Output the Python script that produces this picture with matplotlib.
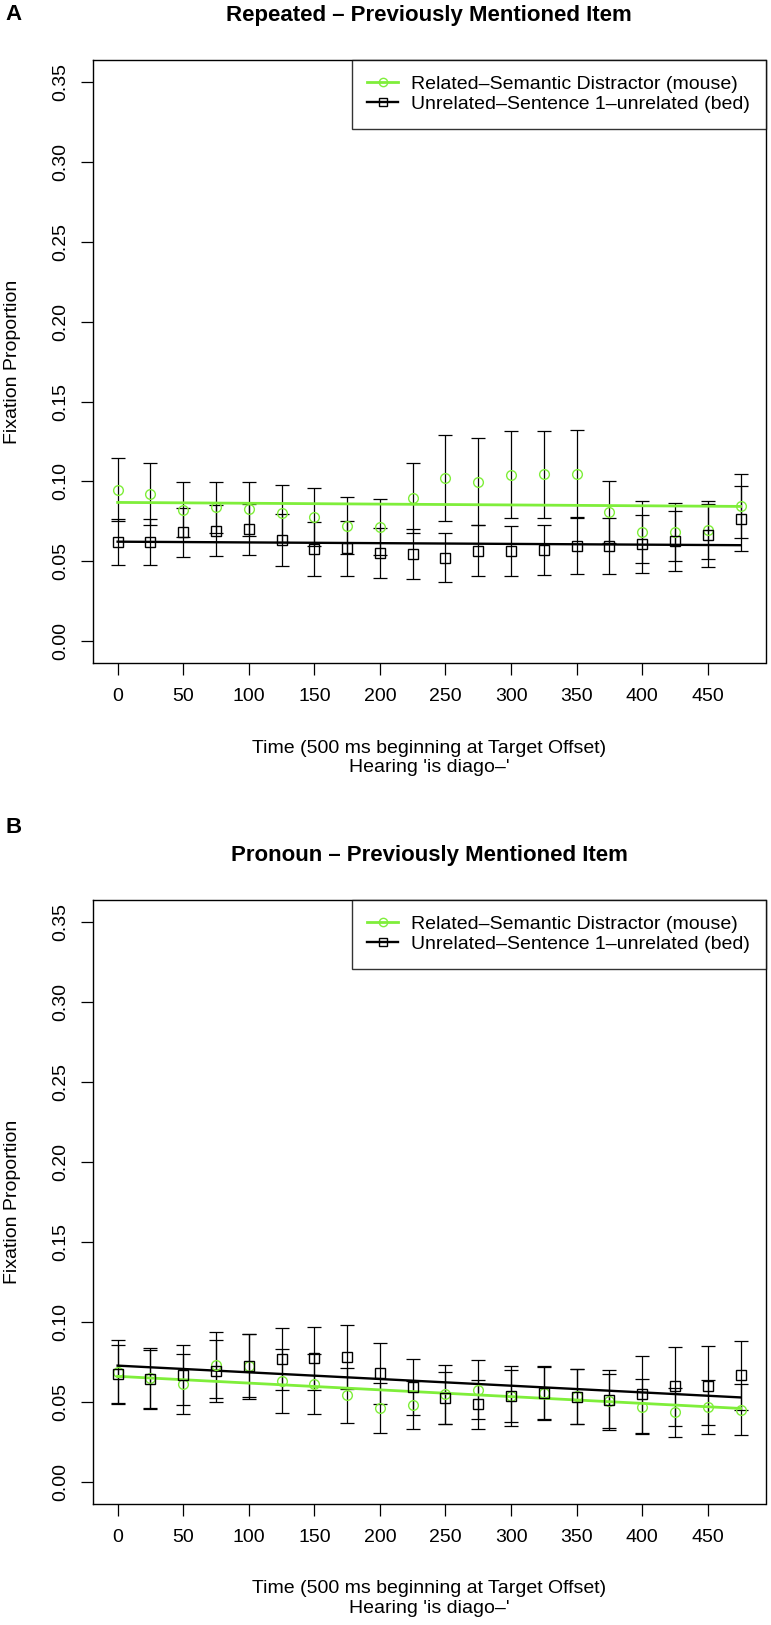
import numpy as np
import matplotlib
matplotlib.use("Agg")
import matplotlib.pyplot as plt
from matplotlib.lines import Line2D

# =========================
# Data
# =========================
TIME_MS = [0, 25, 50, 75, 100, 125, 150, 175, 200, 225,
           250, 275, 300, 325, 350, 375, 400, 425, 450, 475]

# Panel A: Repeated
A_RELATED    = [0.0948, 0.0921, 0.0822, 0.0837, 0.0826, 0.0800, 0.0777, 0.0721, 0.0713, 0.0895,
                0.1021, 0.0998, 0.1041, 0.1045, 0.1048, 0.0808, 0.0680, 0.0684, 0.0696, 0.0845]
A_RELATED_SE = [0.0196, 0.0192, 0.0171, 0.0161, 0.0169, 0.0178, 0.0182, 0.0178, 0.0174, 0.0217,
                0.0272, 0.0273, 0.0272, 0.0272, 0.0273, 0.0196, 0.0194, 0.0182, 0.0182, 0.0202]
A_UNRELATED    = [0.0620, 0.0620, 0.0680, 0.0690, 0.0700, 0.0632, 0.0574, 0.0581, 0.0552, 0.0545,
                  0.0521, 0.0566, 0.0566, 0.0568, 0.0595, 0.0595, 0.0610, 0.0626, 0.0663, 0.0767]
A_UNRELATED_SE = [0.0147, 0.0147, 0.0155, 0.0159, 0.0161, 0.0161, 0.0169, 0.0171, 0.0157, 0.0155,
                  0.0153, 0.0159, 0.0157, 0.0157, 0.0174, 0.0176, 0.0182, 0.0190, 0.0198, 0.0205]
A_FIT_RELATED   = [0.0868, 0.0843]   # fitted line at first / last time point
A_FIT_UNRELATED = [0.0622, 0.0600]

# Panel B: Pronoun
B_RELATED    = [0.0685, 0.0648, 0.0611, 0.0732, 0.0722, 0.0632, 0.0611, 0.0540, 0.0460, 0.0481,
                0.0548, 0.0575, 0.0536, 0.0556, 0.0533, 0.0502, 0.0469, 0.0433, 0.0467, 0.0450]
B_RELATED_SE = [0.0201, 0.0190, 0.0185, 0.0206, 0.0205, 0.0201, 0.0190, 0.0173, 0.0158, 0.0150,
                0.0185, 0.0186, 0.0185, 0.0167, 0.0172, 0.0169, 0.0172, 0.0155, 0.0170, 0.0161]
B_UNRELATED    = [0.0672, 0.0640, 0.0665, 0.0692, 0.0724, 0.0766, 0.0772, 0.0780, 0.0678, 0.0594,
                  0.0523, 0.0485, 0.0536, 0.0552, 0.0531, 0.0513, 0.0546, 0.0596, 0.0600, 0.0665]
B_UNRELATED_SE = [0.0182, 0.0185, 0.0187, 0.0194, 0.0197, 0.0195, 0.0198, 0.0203, 0.0192, 0.0174,
                  0.0164, 0.0153, 0.0164, 0.0167, 0.0172, 0.0188, 0.0243, 0.0245, 0.0246, 0.0215]
B_FIT_RELATED   = [0.0659, 0.0458]
B_FIT_UNRELATED = [0.0726, 0.0527]

X_TICKS = [0, 50, 100, 150, 200, 250, 300, 350, 400, 450]
Y_TICKS = [0.00, 0.05, 0.10, 0.15, 0.20, 0.25, 0.30, 0.35]

LABEL_RELATED   = "Related\u2013Semantic Distractor (mouse)"
LABEL_UNRELATED = "Unrelated\u2013Sentence 1\u2013unrelated (bed)"
XLABEL = "Time (500 ms beginning at Target Offset)\nHearing 'is diago\u2013'"
YLABEL = "Fixation Proportion"

# =========================
# Layout / style (pixels of a 771 x 1625 canvas)
# =========================
W, H = 771, 1625
BOX_LEFT, BOX_RIGHT = 92.7, 765.5
BOX_A = (60.0, 663.3)     # top, bottom
BOX_B = (900.0, 1504.0)
GREEN = "#7FEE3A"
FS = 14

plt.rcParams["font.family"] = ["Liberation Sans", "DejaVu Sans"]


def fy(px):
    return 1 - px / H


def fx(px):
    return px / W


def draw_panel(fig, box, title, letter, letter_y, rel, rel_se, unrel, unrel_se, fit_rel, fit_unrel):
    top, bottom = box
    ax = fig.add_axes([fx(BOX_LEFT), fy(bottom), fx(BOX_RIGHT) - fx(BOX_LEFT),
                       (bottom - top) / H])
    t = np.asarray(TIME_MS, dtype=float)

    # error bars (both in black, like the R original)
    for vals, se in ((rel, rel_se), (unrel, unrel_se)):
        ax.errorbar(t, vals, yerr=se, fmt="none", ecolor="black",
                    elinewidth=0.9, capsize=5, capthick=0.9, zorder=2)

    # fitted lines
    ax.plot([t[0], t[-1]], fit_rel, color=GREEN, lw=2.0, zorder=3)
    ax.plot([t[0], t[-1]], fit_unrel, color="black", lw=1.7, zorder=3)

    # points
    ax.plot(t, rel, linestyle="none", marker="o", ms=7, mfc="none",
            mec=GREEN, mew=1.0, zorder=4)
    ax.plot(t, unrel, linestyle="none", marker="s", ms=6.5, mfc="none",
            mec="black", mew=1.0, zorder=4)

    ax.set_xlim(-19, 494)
    ax.set_ylim(-0.014, 0.364)
    ax.set_xticks(X_TICKS)
    ax.set_yticks(Y_TICKS)
    ax.set_yticklabels([f"{v:.2f}" for v in Y_TICKS], rotation=90, va="center")
    ax.tick_params(direction="out", length=8.6, width=0.9, labelsize=FS)
    ax.tick_params(axis="x", pad=9.5)
    ax.tick_params(axis="y", pad=8.4)
    for sp in ax.spines.values():
        sp.set_linewidth(1.0)

    handles = [
        Line2D([], [], color=GREEN, lw=2.0, marker="o", ms=6, mfc="none", mec=GREEN),
        Line2D([], [], color="black", lw=1.7, marker="s", ms=5.5, mfc="none", mec="black"),
    ]
    leg = ax.legend(handles, [LABEL_RELATED, LABEL_UNRELATED], loc="upper right",
                    bbox_to_anchor=(1.0, 1.0), fontsize=FS, frameon=True, fancybox=False,
                    borderaxespad=0, handlelength=1.6, handletextpad=0.65,
                    borderpad=0.8, labelspacing=0.12)
    leg.get_frame().set_edgecolor("black")
    leg.get_frame().set_linewidth(1.0)

    # title, axis labels, panel letter
    cx = fx((BOX_LEFT + BOX_RIGHT) / 2)
    fig.text(cx, fy(top - 45), title, fontsize=16, fontweight="bold",
             ha="center", va="center")
    fig.text(cx, fy(bottom + 94.5), XLABEL, fontsize=FS, ha="center", va="center",
             linespacing=1.17)
    fig.text(fx(13), fy((top + bottom) / 2), YLABEL, fontsize=FS, rotation=90,
             ha="center", va="center")
    fig.text(fx(13.5), fy(letter_y), letter, fontsize=16, fontweight="bold",
             ha="center", va="center")


def main():
    fig = plt.figure(figsize=(W / 100, H / 100), dpi=100)

    draw_panel(fig, BOX_A, "Repeated \u2013 Previously Mentioned Item", "A", 15,
               A_RELATED, A_RELATED_SE, A_UNRELATED, A_UNRELATED_SE,
               A_FIT_RELATED, A_FIT_UNRELATED)
    draw_panel(fig, BOX_B, "Pronoun \u2013 Previously Mentioned Item", "B", 828,
               B_RELATED, B_RELATED_SE, B_UNRELATED, B_UNRELATED_SE,
               B_FIT_RELATED, B_FIT_UNRELATED)

    fig.savefig("out.png", dpi=100)


if __name__ == "__main__":
    main()
